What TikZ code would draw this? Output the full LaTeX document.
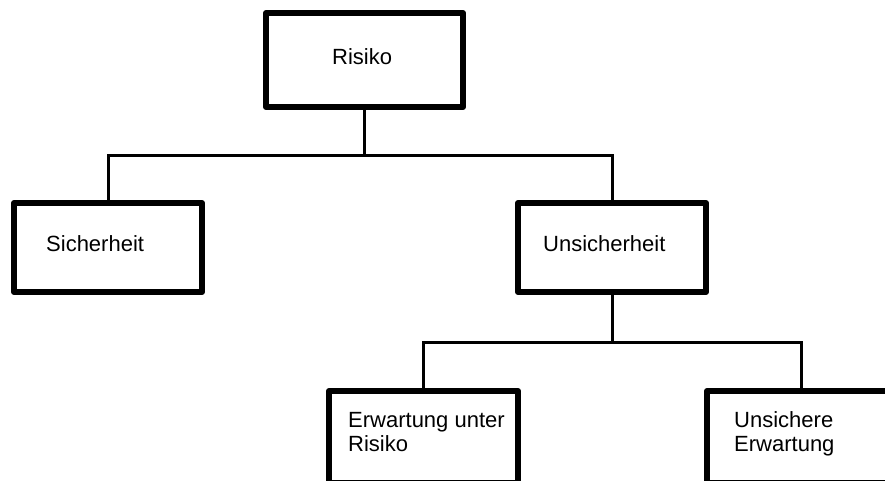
\documentclass[tikz,border=0pt]{standalone}
\usepackage{fontspec}
\setmainfont{Liberation Sans}
\begin{document}
\begin{tikzpicture}[x=1pt,y=-1pt,
  box/.style={draw=black, line width=6pt, line join=round, rectangle, inner sep=0pt},
  conn/.style={draw=black, line width=3pt},
  lbl/.style={anchor=base west, inner sep=0pt, align=left,
    font=\fontsize{22}{24}\selectfont}]
  \path[use as bounding box, clip] (0,0) rectangle (885,480);

  % boxes
  \node[box, minimum width=197pt, minimum height=94pt] (risiko) at (364.5,60) {};
  \node[box, minimum width=188pt, minimum height=89pt] (sicherheit) at (108,247.5) {};
  \node[box, minimum width=188pt, minimum height=89pt] (unsicherheit) at (612,247.5) {};
  \node[box, minimum width=189pt, minimum height=92pt] (erwartung) at (423.5,437) {};
  \node[box, minimum width=188pt, minimum height=92pt] (unsichere) at (801,437) {};

  % labels (two-line labels are anchored on their last baseline)
  \node[lbl] (tRisiko) at (332,64) {Risiko};
  \node[lbl] (tSicherheit) at (46,251) {Sicherheit};
  \node[lbl] (tUnsicherheit) at (543,251.5) {Unsicherheit};
  \node[lbl] (tErwartung) at (348,451.5) {Erwartung unter\\Risiko};
  \node[lbl] (tUnsichere) at (734,451.5) {Unsichere\\Erwartung};

  % connectors
  \coordinate (bus1) at (risiko.south |- 0,155);
  \coordinate (bus2) at (unsicherheit.south |- 0,342);
  \draw[conn] (risiko.south) -- (bus1);
  \draw[conn] (sicherheit.north) |- (bus1) -| (unsicherheit.north);
  \draw[conn] (unsicherheit.south) -- (bus2);
  \draw[conn] (erwartung.north) |- (bus2) -| (unsichere.north);
\end{tikzpicture}
\end{document}
